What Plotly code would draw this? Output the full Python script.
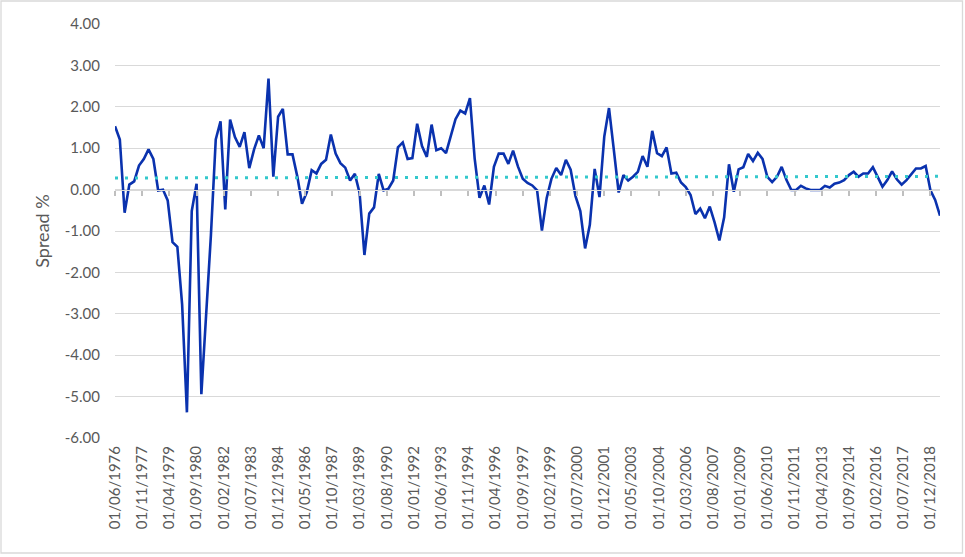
import pandas as pd
import plotly.graph_objects as go

# Quarterly spread series, starting 01/06/1976
start_date = "1976-06-01"
spread = [
    1.53, 1.21, -0.56, 0.12, 0.20, 0.58, 0.74, 0.97, 0.74, -0.02,
    0.00, -0.26, -1.27, -1.38, -2.78, -5.38, -0.52, 0.14, -4.94, -3.00,
    -1.10, 1.21, 1.65, -0.48, 1.69, 1.27, 1.03, 1.39, 0.52, 0.97,
    1.31, 1.00, 2.68, 0.31, 1.76, 1.95, 0.85, 0.85, 0.32, -0.34,
    -0.06, 0.47, 0.39, 0.62, 0.72, 1.33, 0.87, 0.64, 0.53, 0.22,
    0.38, -0.08, -1.58, -0.58, -0.43, 0.38, -0.02, 0.02, 0.22, 1.02,
    1.14, 0.74, 0.76, 1.59, 1.05, 0.79, 1.57, 0.95, 1.00, 0.88,
    1.29, 1.70, 1.91, 1.84, 2.21, 0.75, -0.20, 0.10, -0.36, 0.55,
    0.87, 0.87, 0.62, 0.94, 0.56, 0.26, 0.16, 0.10, -0.02, -0.99,
    -0.20, 0.26, 0.52, 0.35, 0.72, 0.48, -0.16, -0.52, -1.42, -0.85,
    0.50, -0.18, 1.28, 1.97, 0.96, -0.07, 0.35, 0.22, 0.31, 0.43,
    0.81, 0.55, 1.42, 0.88, 0.81, 1.02, 0.39, 0.41, 0.17, 0.06,
    -0.13, -0.59, -0.46, -0.69, -0.41, -0.79, -1.23, -0.67, 0.61, -0.05,
    0.49, 0.54, 0.86, 0.69, 0.89, 0.74, 0.31, 0.18, 0.31, 0.55,
    0.23, -0.01, -0.01, 0.09, 0.03, -0.01, -0.01, -0.01, 0.09, 0.05,
    0.14, 0.17, 0.23, 0.35, 0.43, 0.31, 0.39, 0.39, 0.54, 0.31,
    0.07, 0.23, 0.44, 0.25, 0.12, 0.23, 0.38, 0.51, 0.51, 0.57,
    -0.02, -0.25, -0.63,
]
dates = pd.date_range(start=start_date, periods=len(spread), freq="3MS")

# Average (dotted) line: start and end values
avg_dates = [dates[0], dates[-1]]
avg_values = [0.28, 0.32]

y_tick_vals = [4, 3, 2, 1, 0, -1, -2, -3, -4, -5, -6]
y_tick_text = ["4.00", "3.00", "2.00", "1.00", "0.00", "-1.00", "-2.00",
               "-3.00", "-4.00", "-5.00", "-6.00"]

GRID = "#D9D9D9"
TEXT = "#595959"
FONT = "Lato"

fig = go.Figure()
fig.add_trace(go.Scatter(
    x=dates, y=spread, mode="lines",
    line=dict(color="#0A32AE", width=2.6),
    showlegend=False, xaxis="x", yaxis="y",
))
fig.add_trace(go.Scatter(
    x=avg_dates, y=avg_values, mode="lines",
    line=dict(color="#33C8CC", width=3, dash="3px,7px"),
    showlegend=False, xaxis="x2", yaxis="y",
))

W, H = 965, 557
ml, mr, mt, mb = 115, 25, 24, 119
pw, ph = W - ml - mr, H - mt - mb

x_range = [dates[0], dates[-1]]

fig.update_layout(
    width=W, height=H,
    margin=dict(l=ml, r=mr, t=mt, b=mb),
    paper_bgcolor="white", plot_bgcolor="white",
    font=dict(family=FONT, size=15, color=TEXT),
    xaxis=dict(
        type="date", range=x_range,
        tick0=start_date, dtick="M17", tickformat="%d/%m/%Y",
        tickangle=-90, ticks="", showgrid=False, zeroline=False,
        showline=False, tickfont=dict(size=15, color=TEXT, family=FONT),
        ticklabelstandoff=4,
    ),
    xaxis2=dict(
        type="date", overlaying="x", matches="x", anchor="free",
        position=0.6, side="bottom",
        tick0=start_date, dtick="M17",
        ticks="outside", ticklen=5, tickwidth=1.5, tickcolor="#BFBFBF",
        showline=True, linecolor=GRID, linewidth=1.3,
        showticklabels=False, showgrid=False, zeroline=False,
    ),
    yaxis=dict(
        range=[-6, 4], tickvals=y_tick_vals, ticktext=y_tick_text,
        showgrid=True, gridcolor=GRID, gridwidth=1.3,
        zeroline=False, showline=False, ticks="",
        tickfont=dict(size=15, color=TEXT, family=FONT),
        ticklabelstandoff=14,
        title=dict(text="Spread %", font=dict(size=18, color=TEXT, family=FONT),
                   standoff=10),
    ),
    shapes=[dict(
        type="rect", xref="paper", yref="paper",
        x0=-(ml - 1) / pw, x1=1 + (mr - 2.5) / pw,
        y0=-(mb - 4) / ph, y1=1 + (mt - 1) / ph,
        line=dict(color=GRID, width=1.3), fillcolor="rgba(0,0,0,0)",
        layer="below",
    )],
)

fig.write_html("out.html")
